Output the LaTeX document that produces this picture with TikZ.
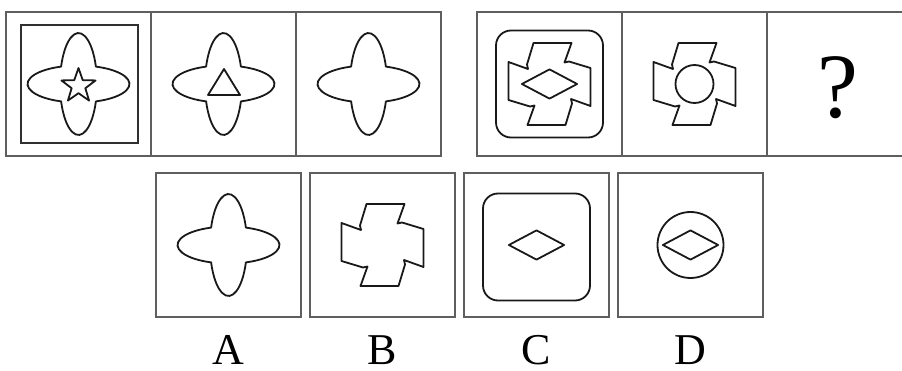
\documentclass[tikz,border=0pt]{standalone}
\usepackage{fontspec}
\setmainfont{Liberation Serif}
\usetikzlibrary{positioning, shapes.geometric}

\definecolor{framegray}{RGB}{95,95,95}
\definecolor{inkdark}{RGB}{25,25,25}

\tikzset{
  shapeline/.style={draw=inkdark, line width=1.8pt, line join=round},
  % union of two crossed ellipses
  lobes/.pic={
    \draw[shapeline] (17.39,-17.39)
      arc[start angle=-70.05, end angle=70.05, x radius=51, y radius=18.5]
      arc[start angle=19.95, end angle=160.05, x radius=18.5, y radius=51]
      arc[start angle=109.95, end angle=250.05, x radius=51, y radius=18.5]
      arc[start angle=199.95, end angle=340.05, x radius=18.5, y radius=51]
      -- cycle;
  },
  % sheared cross, four-fold
  gearcross/.pic={
    \draw[shapeline] (-16,-41) -- (22,-41) -- (15,-21.5) -- (19.5,-22.5)
      -- (41,-16) -- (41,22) -- (21.5,15) -- (22.5,19.5)
      -- (16,41) -- (-22,41) -- (-15,21.5) -- (-19.5,22.5)
      -- (-41,16) -- (-41,-22) -- (-21.5,-15) -- (-22.5,-19.5) -- cycle;
  },
}

\begin{document}
\begin{tikzpicture}[
    x=1pt, y=-1pt,
    cell/.style={draw=framegray, line width=1.5pt, minimum width=145pt,
      minimum height=144pt, inner sep=0pt, outer sep=0pt},
    rhomb/.style={shapeline, diamond, inner sep=0pt, minimum width=56pt,
      minimum height=30pt},
    roundsq/.style={shapeline, rounded corners=15pt, minimum size=107pt, inner sep=0pt},
    optlabel/.style={font=\fontsize{44}{44}\selectfont, inner sep=0pt, anchor=base},
    node distance=9pt,
  ]
    \clip (0,0) rectangle (902,371);
    % top row, left group
    \node[cell] (t1) at (78.5,84) {};
    \node[cell, right=0pt of t1] (t2) {};
    \node[cell, right=0pt of t2] (t3) {};
    % top row, right group
    \node[cell] (t4) at (549.5,84) {};
    \node[cell, right=0pt of t4] (t5) {};
    \node[cell, right=0pt of t5] (t6) {};
    % options
    \node[cell] (A) at (228.5,245) {};
    \node[cell, right=of A] (B) {};
    \node[cell, right=of B] (C) {};
    \node[cell, right=of C] (D) {};

    % cell contents
    \node[draw=inkdark!90, line width=2.4pt, minimum width=117pt, minimum height=118pt,
      inner sep=0pt] (frame1) at (79.5,84) {};
    \pic at (t1) {lobes};
    \node[shapeline, star, star points=5, star point ratio=2.5, minimum size=36pt,
      inner sep=0pt, yshift=-2pt] (star1) at (t1) {};
    \pic at (t2) {lobes};
    \draw[shapeline] (224,69) -- (240,95) -- (208,95) -- cycle;
    \pic at (t3) {lobes};

    \node[roundsq] (frame4) at (t4) {};
    \pic at (t4) {gearcross};
    \node[rhomb] (rh4) at (t4) {};
    \pic at (t5) {gearcross};
    \node[shapeline, circle, minimum size=38pt, inner sep=0pt] (ring5) at (t5) {};
    \node[inner sep=0pt, anchor=base, font=\fontsize{92}{92}\selectfont] (qm) at (838,118) {?};

    \pic at (A) {lobes};
    \pic at (B) {gearcross};
    \node[roundsq, yshift=-2pt] (frameC) at (C) {};
    \node[rhomb] (rhC) at (C) {};
    \node[shapeline, circle, minimum size=66pt, inner sep=0pt] (ringD) at (D) {};
    \node[rhomb] (rhD) at (D) {};

    % answer letters
    \coordinate (lbase) at (0,364);
    \node[optlabel] (la) at (A.center |- lbase) {A};
    \node[optlabel] (lb) at (B.center |- lbase) {B};
    \node[optlabel] (lc) at (C.center |- lbase) {C};
    \node[optlabel] (ld) at (D.center |- lbase) {D};
\end{tikzpicture}
\end{document}
